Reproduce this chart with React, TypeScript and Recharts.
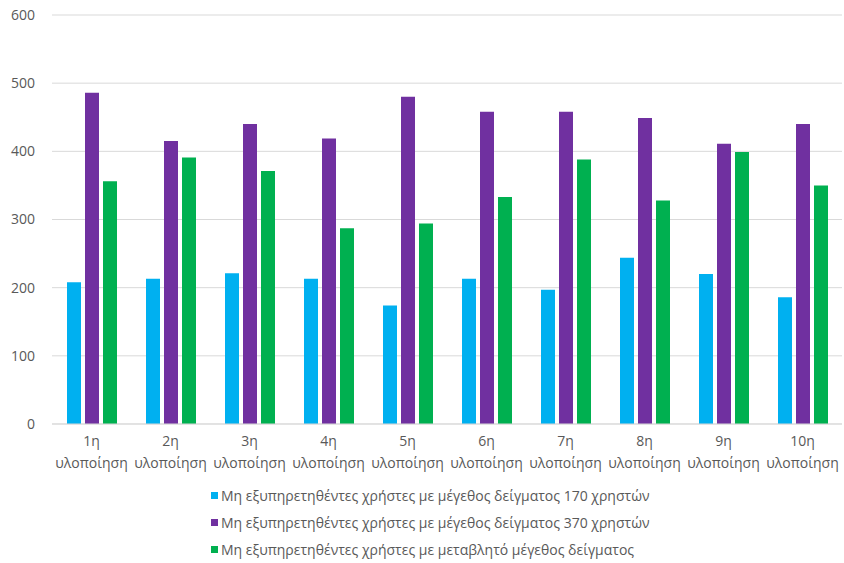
import { Bar, BarChart, CartesianGrid, Legend, XAxis, YAxis } from "recharts";

const categories = [
  "1η υλοποίηση",
  "2η υλοποίηση",
  "3η υλοποίηση",
  "4η υλοποίηση",
  "5η υλοποίηση",
  "6η υλοποίηση",
  "7η υλοποίηση",
  "8η υλοποίηση",
  "9η υλοποίηση",
  "10η υλοποίηση",
];

const sample170 = [208, 213, 221, 213, 174, 213, 197, 244, 220, 186];
const sample370 = [486, 415, 440, 419, 480, 458, 458, 449, 411, 440];
const variableSample = [356, 391, 371, 287, 294, 333, 388, 328, 399, 350];

const yTicks = [0, 100, 200, 300, 400, 500, 600];

const seriesNames = [
  "Μη εξυπηρετηθέντες χρήστες με μέγεθος δείγματος 170 χρηστών",
  "Μη εξυπηρετηθέντες χρήστες με μέγεθος δείγματος 370 χρηστών",
  "Μη εξυπηρετηθέντες χρήστες με μεταβλητό μέγεθος δείγματος",
];
const colors = ["#00B0F0", "#7030A0", "#00B050"];

const data = categories.map((name, i) => ({
  name,
  s170: sample170[i],
  s370: sample370[i],
  vs: variableSample[i],
}));

const FONT = "'Open Sans', sans-serif";

const CategoryTick = ({ x, y, payload }: any) => {
  const [first, second] = String(payload.value).split(" ");
  return (
    <text x={x} y={y} textAnchor="middle" fill="#595959" fontSize={14} fontFamily={FONT}>
      <tspan x={x} dy={14}>{first}</tspan>
      <tspan x={x} dy={22}>{second}</tspan>
    </text>
  );
};

const StackedLegend = () => (
  <div style={{ paddingLeft: 211, fontFamily: FONT, fontSize: 14, color: "#595959" }}>
    {seriesNames.map((n, i) => (
      <div key={n} style={{ display: "flex", alignItems: "center", height: 27 }}>
        <span style={{ width: 7, height: 7, background: colors[i], marginRight: 3, display: "inline-block" }} />
        <span>{n}</span>
      </div>
    ))}
  </div>
);

export default function App() {
  return (
    <div style={{ position: "absolute", left: 0, top: 0, background: "#fff" }}>
      <BarChart
        width={844}
        height={563}
        data={data}
        margin={{ top: 15, right: 2, left: 0, bottom: 0 }}
        barCategoryGap={15}
        barGap={4}
      >
        <CartesianGrid vertical={false} stroke="#d9d9d9" />
        <XAxis
          dataKey="name"
          axisLine={{ stroke: "#d9d9d9" }}
          tickLine={false}
          tick={<CategoryTick />}
          interval={0}
          height={58}
        />
        <YAxis
          domain={[0, 600]}
          ticks={yTicks}
          axisLine={false}
          tickLine={false}
          width={52}
          tickMargin={11}
          tick={{ fontSize: 14, fill: "#595959", fontFamily: FONT }}
        />
        <Legend verticalAlign="bottom" align="left" content={<StackedLegend />} wrapperStyle={{ left: 0, width: 844 }} />
        <Bar dataKey="s170" name={seriesNames[0]} fill={colors[0]} isAnimationActive={false} />
        <Bar dataKey="s370" name={seriesNames[1]} fill={colors[1]} isAnimationActive={false} />
        <Bar dataKey="vs" name={seriesNames[2]} fill={colors[2]} isAnimationActive={false} />
      </BarChart>
    </div>
  );
}
